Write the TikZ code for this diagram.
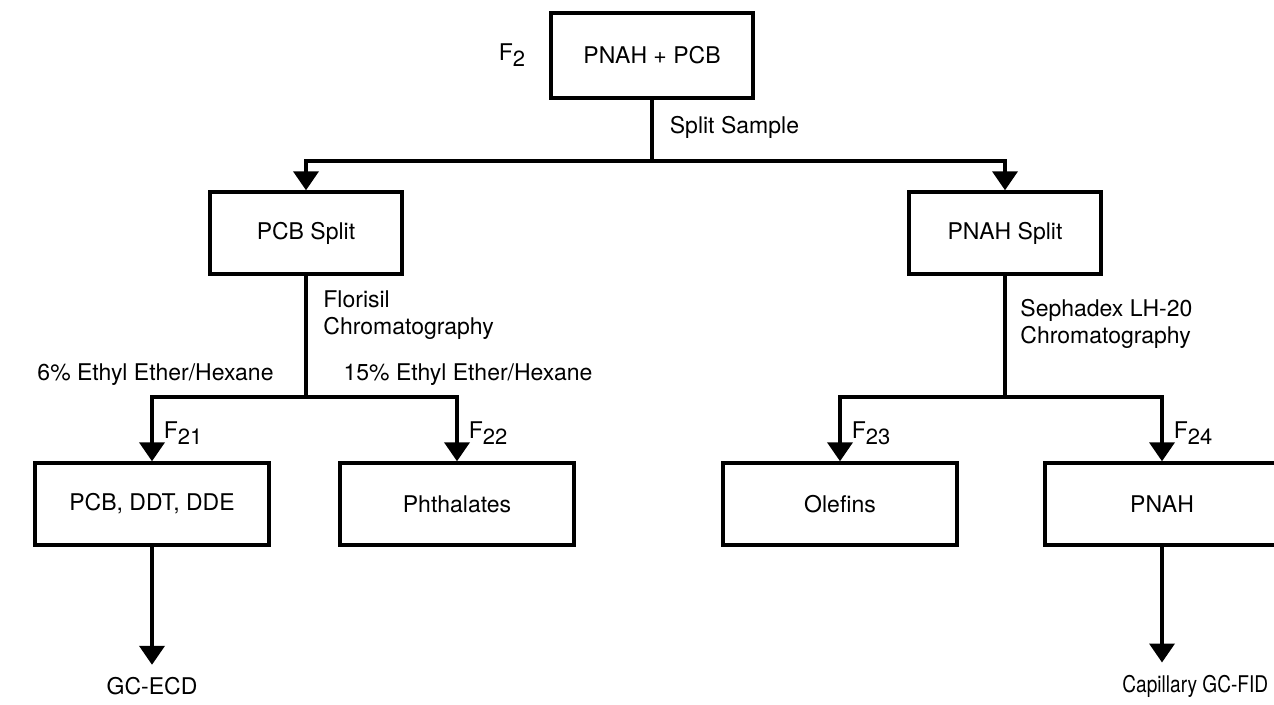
\documentclass[tikz,border=0pt]{standalone}
\usepackage{fontspec}
\setmainfont{TeX Gyre Heros}
\usepackage{tikz}
\usetikzlibrary{arrows.meta, positioning, calc}

\newcommand{\fr}[1]{F\raisebox{-0.5ex}{\fontsize{11}{12}\selectfont #1}}

\tikzset{
    box/.style={draw, line width=1.7pt, minimum width=117pt, minimum height=41pt, inner sep=0pt},
    flow/.style={line width=1.9pt, -{Triangle[width=12.5pt,length=9.5pt]}},
    stem/.style={line width=1.9pt},
    lbl/.style={inner sep=0pt, font=\fontsize{11.5}{13.5}\selectfont},
}

\begin{document}
\begin{tikzpicture}[x=0.5pt, y=-0.5pt, font=\fontsize{11.5}{13.5}\selectfont]
    \useasboundingbox (0,0) rectangle (1274,705);
    \clip (0,0) rectangle (1274,705);

    % top
    \node[box, minimum width=101pt, minimum height=42.5pt] (mix) at (652,55.5) {PNAH + PCB};
    \node[lbl] (f2) at (512,55) {\fr{2}};
    \coordinate (j1) at (652,161);
    \draw[stem] (mix.south) -- node[lbl, pos=0.45, right=8pt] (split) {Split Sample} (j1);

    % splits
    \node[box, minimum width=96pt] (pcbs) at (306,233) {PCB Split};
    \node[box, minimum width=96pt] (pnahs) at (1005,233) {PNAH Split};
    \draw[flow] (j1) -| (pcbs.north);
    \draw[flow] (j1) -| (pnahs.north);

    % PCB side
    \coordinate (j2) at (306,397);
    \draw[stem] (pcbs.south) -- (j2);
    \node[lbl, anchor=west, align=left] (flor) at (323,315) {Florisil\\Chromatography};
    \node[lbl] (eth6) at (155.5,375) {6\% Ethyl Ether/Hexane};
    \node[lbl] (eth15) at (468,375) {15\% Ethyl Ether/Hexane};

    \node[box] (pcbd) at (152,504) {PCB, DDT, DDE};
    \node[box] (phth) at (457,504) {Phthalates};
    \draw[flow] (j2) -| node[lbl, pos=0.78, right=5pt] (f21) {\fr{21}} (pcbd.north);
    \draw[flow] (j2) -| node[lbl, pos=0.78, right=5pt] (f22) {\fr{22}} (phth.north);

    % PNAH side
    \coordinate (j3) at (1005,397);
    \draw[stem] (pnahs.south) -- (j3);
    \node[lbl, anchor=west, align=left] (seph) at (1020,324) {Sephadex LH-20\\Chromatography};

    \node[box] (olef) at (840,504) {Olefins};
    \node[box] (pnah) at (1162,504) {PNAH};
    \draw[flow] (j3) -| node[lbl, pos=0.78, right=5pt] (f23) {\fr{23}} (olef.north);
    \draw[flow] (j3) -| node[lbl, pos=0.78, right=5pt] (f24) {\fr{24}} (pnah.north);

    % detectors
    \node[lbl, inner sep=6pt] (ecd) at (152,686) {GC-ECD};
    \node[lbl, inner sep=6pt, anchor=west] (fid) at (1110,686) {\scalebox{0.83}[1]{Capillary GC-FID}};
    \draw[flow] (pcbd.south) -- (ecd.north);
    \draw[flow] (pnah.south) -- (pnah.south |- fid.north);
\end{tikzpicture}
\end{document}
